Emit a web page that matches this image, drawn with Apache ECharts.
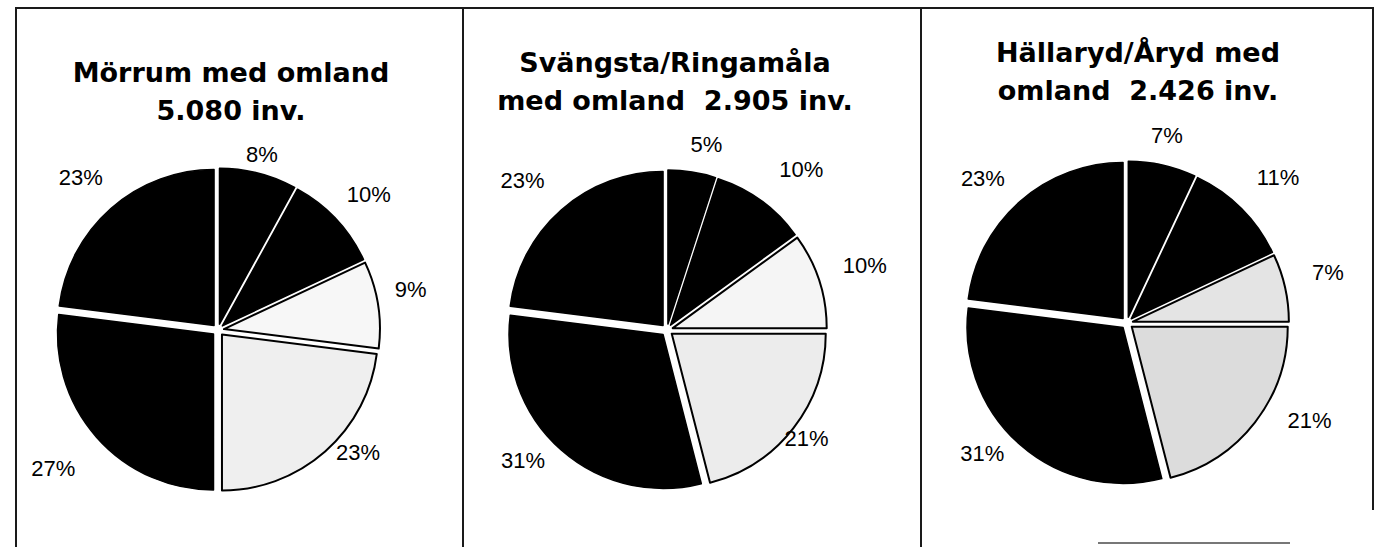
<!DOCTYPE html>
<html><head><meta charset="utf-8">
<script src="https://cdn.jsdelivr.net/npm/echarts@6/dist/echarts.min.js"></script>
<style>html,body{margin:0;padding:0;background:#fff}#c{width:1379px;height:547px}</style>
</head><body><div id="c"></div>
<script>
// ---- data ----
const categories = ['Grupp 1', 'Grupp 2', 'Grupp 3', 'Grupp 4', 'Grupp 5', 'Grupp 6'];
const morrumValues = [8, 10, 9, 23, 27, 23];
const svangstaValues = [5, 10, 10, 21, 31, 23];
const hallarydValues = [7, 11, 7, 21, 31, 23];
const titleTexts = [
  'Mörrum med omland\n5.080 inv.',
  'Svängsta/Ringamåla\nmed omland  2.905 inv.',
  'Hällaryd/Åryd med\nomland  2.426 inv.'
];

// ---- styles / layout ----
const fills = [
  ['#000', '#000', '#f7f7f7', '#efefef', '#000', '#000'],
  ['#000', '#000', '#f5f5f5', '#ececec', '#000', '#000'],
  ['#000', '#000', '#e4e4e4', '#dcdcdc', '#000', '#000']
];
const centers = [[218, 330], [667, 330], [1127, 323]];
const radii = [156, 154, 156];
const titlePos = [[226, 48], [670, 38], [1133, 28]];
// where each percentage label sits: direction (deg, clockwise from top) and distance from pie centre
const labelAngle = [
  [14, 48, 78, 131, 230, 318],
  [12, 40, 72, 128, 228, 316],
  [12, 46, 76, 118, 228, 315]
];
const labelDist = [
  [178, 200, 194, 183, 212, 202],
  [187, 206, 205, 174, 191, 205],
  [189, 207, 204, 204, 192, 201]
];
const RING = 200; // distance of the label ring used by the library

function buildPie(values, fill, center, r, angs, dists) {
  const total = values.reduce((a, b) => a + b, 0);
  let cum = 0;
  const labelItems = values.map((v, i) => {
    const mid = (cum + v / 2) / total * 2 * Math.PI; cum += v;
    const ax = RING * Math.sin(mid), ay = -RING * Math.cos(mid);
    const t = angs[i] * Math.PI / 180;
    const tx = dists[i] * Math.sin(t), ty = -dists[i] * Math.cos(t);
    const sx = tx - ax, sy = ty - ay;
    const pad = [Math.max(0, 2 * sy), Math.max(0, -2 * sx), Math.max(0, -2 * sy), Math.max(0, 2 * sx)];
    return { name: categories[i], value: v, label: { padding: pad } };
  });
  const items = values.map((v, i) => {
    const dark = fill[i] === '#000';
    const st = { color: fill[i], borderColor: '#000', borderWidth: dark ? 1.5 : 2 };
    return { name: categories[i], value: v, selected: true, itemStyle: st, select: { itemStyle: st } };
  });
  return [{
    type: 'pie', center: center, radius: r, startAngle: 90, clockwise: true,
    selectedMode: 'multiple', selectedOffset: 6, silent: true, animation: false,
    label: { show: false }, labelLine: { show: false },
    emphasis: { disabled: true },
    data: items
  }, {
    type: 'pie', center: center, radius: [RING - 30, RING + 30], startAngle: 90, clockwise: true,
    silent: true, animation: false, avoidLabelOverlap: false,
    itemStyle: { color: 'rgba(0,0,0,0)', borderWidth: 0 },
    label: { show: true, position: 'inside', formatter: '{v|{c}%}', overflow: 'none',
             rich: { v: { fontFamily: 'Liberation Sans', fontSize: 22, color: '#000' } } },
    labelLine: { show: false },
    emphasis: { disabled: true },
    data: labelItems
  }];
}

const allValues = [morrumValues, svangstaValues, hallarydValues];
let series = [];
allValues.forEach((vals, k) => {
  series = series.concat(buildPie(vals, fills[k], centers[k], radii[k], labelAngle[k], labelDist[k]));
});

const lineStyle = { stroke: '#1a1a1a', lineWidth: 2 };
const chart = echarts.init(document.getElementById('c'), null, { renderer: 'svg' });
chart.setOption({
  backgroundColor: '#fff',
  animation: false,
  title: titleTexts.map((t, k) => ({
    text: t, left: titlePos[k][0], top: titlePos[k][1], textAlign: 'center',
    textStyle: { fontFamily: 'DejaVu Sans', fontWeight: 'bold', fontSize: 27, lineHeight: 38, color: '#000' }
  })),
  graphic: [
    { type: 'line', shape: { x1: 15, y1: 8, x2: 1374, y2: 8 }, style: lineStyle, silent: true },
    { type: 'line', shape: { x1: 16, y1: 8, x2: 16, y2: 547 }, style: lineStyle, silent: true },
    { type: 'line', shape: { x1: 463, y1: 8, x2: 463, y2: 547 }, style: lineStyle, silent: true },
    { type: 'line', shape: { x1: 921, y1: 8, x2: 921, y2: 547 }, style: lineStyle, silent: true },
    { type: 'line', shape: { x1: 1373, y1: 8, x2: 1373, y2: 510 }, style: lineStyle, silent: true },
    { type: 'line', shape: { x1: 1098, y1: 543, x2: 1290, y2: 543 }, style: { stroke: '#777', lineWidth: 2 }, silent: true }
  ],
  series: series
});
</script></body></html>
